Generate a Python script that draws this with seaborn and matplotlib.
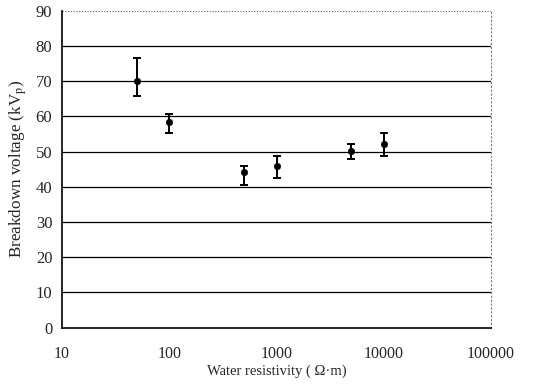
import numpy as np
import matplotlib
matplotlib.use('Agg')
import matplotlib.pyplot as plt
import matplotlib.ticker as mticker
import seaborn as sns
import pandas as pd

# valores
resistividade = [50, 100, 500, 1000, 5000, 10000]
tensao = [70.0, 58.3, 44.2, 45.8, 50.3, 52.2]
erro_sup = [76.6, 60.8, 45.9, 48.7, 52.1, 55.3]
erro_inf = [65.8, 55.3, 40.6, 42.4, 47.9, 48.8]

x_ticks = [10, 100, 1000, 10000, 100000]
y_ticks = [0, 10, 20, 30, 40, 50, 60, 70, 80, 90]

df = pd.DataFrame({'res': resistividade, 'v': tensao})

sns.set_style('white')
plt.rcParams['font.family'] = ['Liberation Serif', 'DejaVu Serif']
plt.rcParams['mathtext.fontset'] = 'stix'

fig = plt.figure(figsize=(5.44, 3.89), dpi=100)
ax = fig.add_axes([0.114, 0.1576, 0.7886, 0.815])

# grade horizontal
for y in y_ticks[1:-1]:
    ax.axhline(y, color='black', lw=0.9, zorder=1)
ax.axhline(90, color='#555555', lw=0.8, ls=(0, (1, 1.5)), zorder=1)

err = [np.array(tensao) - np.array(erro_inf), np.array(erro_sup) - np.array(tensao)]
ax.errorbar(resistividade, tensao, yerr=err, fmt='none', ecolor='black',
            elinewidth=1.4, capsize=3.2, capthick=1.4, zorder=3)
sns.scatterplot(data=df, x='res', y='v', color='black', s=22, edgecolor='black',
                zorder=4, ax=ax, legend=False)

ax.set_xscale('log')
ax.set_xlim(10, 100000)
ax.set_ylim(0, 90)
ax.set_xticks(x_ticks)
ax.xaxis.set_major_formatter(mticker.FixedFormatter([str(v) for v in x_ticks]))
ax.xaxis.set_minor_locator(mticker.LogLocator(base=10, subs=np.arange(2, 10)))
ax.xaxis.set_minor_formatter(mticker.NullFormatter())
ax.set_yticks(y_ticks)

ax.tick_params(axis='x', which='major', direction='in', length=5, width=1,
               pad=13, labelsize=11.5)
ax.tick_params(axis='x', which='minor', direction='in', length=4, width=1)
ax.tick_params(axis='y', which='both', length=0, pad=7, labelsize=12)

for s in ['left', 'bottom']:
    ax.spines[s].set_color('black')
    ax.spines[s].set_linewidth(1.2)
ax.spines['top'].set_visible(False)
ax.spines['right'].set_color('#777777')
ax.spines['right'].set_linestyle((0, (1, 2.5)))
ax.spines['right'].set_linewidth(0.8)

ax.set_xlabel('Water resistivity ( \u03a9\u00b7m)', fontsize=10.5, labelpad=2)
ax.set_ylabel('Breakdown voltage (kV$_\\mathrm{p}$)', fontsize=12.3, labelpad=5)

plt.savefig('out.png', dpi=100)
